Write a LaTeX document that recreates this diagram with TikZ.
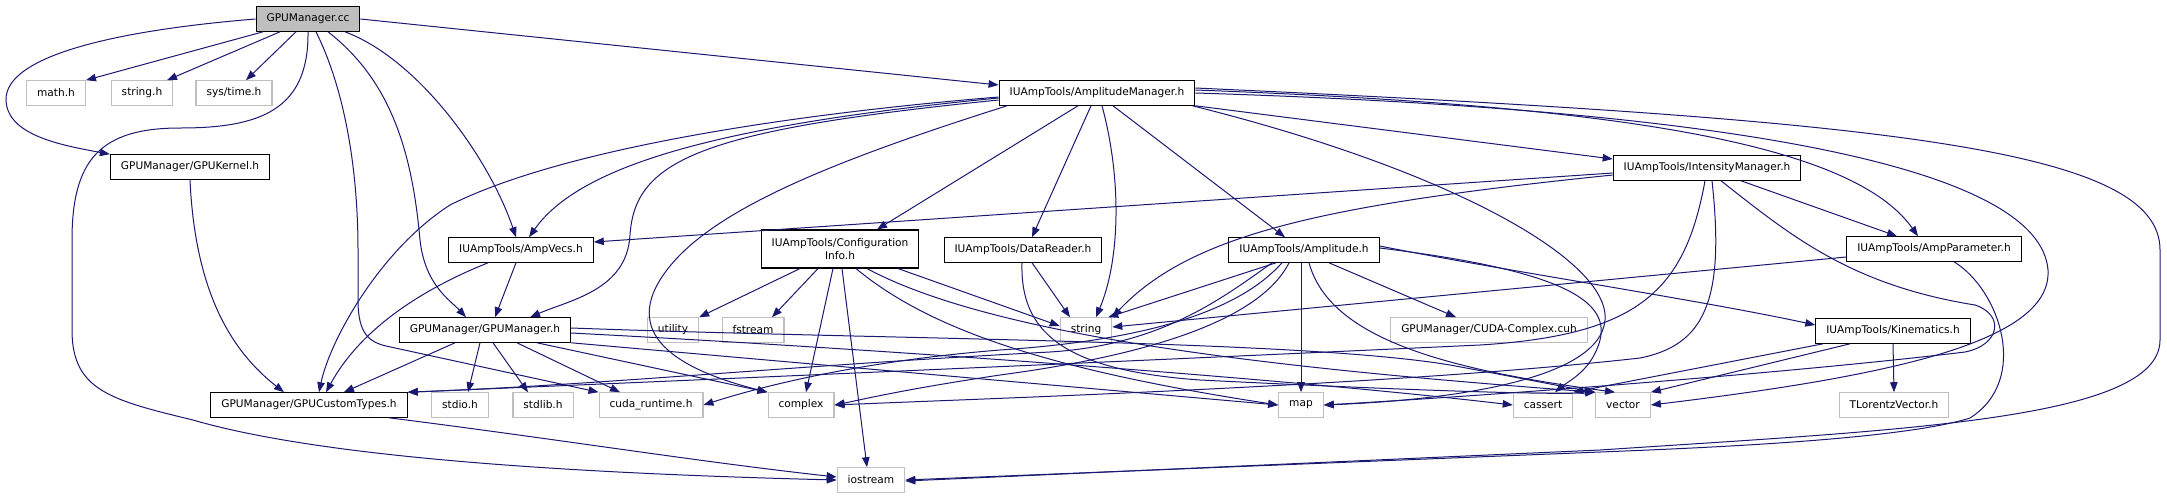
\documentclass[tikz,border=0pt]{standalone}
\usepackage{fontspec}
\newfontfamily\dvs{DejaVu Sans}
\usetikzlibrary{arrows.meta}
\definecolor{edgeblue}{HTML}{191970}
\definecolor{sysgray}{HTML}{BFBFBF}
\tikzset{
	hdr/.style={draw=black, line width=1.1pt, fill=white, font=\dvs\fontsize{10.6}{12.5}\selectfont, inner xsep=10.5pt, inner ysep=0pt, minimum height=24.5pt},
	sys/.style={hdr, draw=sysgray},
	incl/.style={draw=edgeblue, line width=1pt, -{Triangle[length=10pt,width=7.5pt]}}
}
\begin{document}
\begin{tikzpicture}[x=1pt,y=-1pt]
	\useasboundingbox (0,0) rectangle (2167,499);
	\node[hdr, fill=sysgray] (cc) at (308,19) {GPUManager.cc};
	\node[sys] (math) at (56,93) {math.h};
	\node[sys] (strh) at (142,93) {string.h};
	\node[sys] (time) at (234,93) {sys/time.h};
	\node[hdr] (am) at (1097,93) {IUAmpTools/AmplitudeManager.h};
	\node[hdr] (kernel) at (190,167) {GPUManager/GPUKernel.h};
	\node[hdr] (im) at (1707,168) {IUAmpTools/IntensityManager.h};
	\node[hdr] (vecs) at (521,250) {IUAmpTools/AmpVecs.h};
	\node[hdr, align=center, minimum height=38pt] (cfg) at (840,249) {IUAmpTools/Configuration\\Info.h};
	\node[hdr] (dr) at (1023,250) {IUAmpTools/DataReader.h};
	\node[hdr] (amp) at (1304,250) {IUAmpTools/Amplitude.h};
	\node[hdr] (par) at (1934,249) {IUAmpTools/AmpParameter.h};
	\node[hdr] (gpum) at (485,330) {GPUManager/GPUManager.h};
	\node[sys] (util) at (673,330) {utility};
	\node[sys] (fstr) at (753,330) {fstream};
	\node[sys] (str) at (1086,330) {string};
	\node[sys] (cuh) at (1489,330) {GPUManager/CUDA-Complex.cuh};
	\node[hdr] (kin) at (1893,331) {IUAmpTools/Kinematics.h};
	\node[hdr] (ctyp) at (309,405) {GPUManager/GPUCustomTypes.h};
	\node[sys] (stdio) at (460,405) {stdio.h};
	\node[sys] (stdlib) at (543,405) {stdlib.h};
	\node[sys] (cuda) at (651,405) {cuda\_runtime.h};
	\node[sys] (cplx) at (801,405) {complex};
	\node[sys] (map) at (1301,405) {map};
	\node[sys] (cass) at (1543,405) {cassert};
	\node[sys] (vec) at (1623,405) {vector};
	\node[sys] (tlv) at (1894,405) {TLorentzVector.h};
	\node[sys] (ios) at (871,480) {iostream};

	\draw[incl] ([xshift=-45pt]cc.south) -- ([xshift=30pt]math.north);
	\draw[incl] ([xshift=-28pt]cc.south) -- ([xshift=25pt]strh.north);
	\draw[incl] ([xshift=-12pt]cc.south) -- ([xshift=12pt]time.north);
	\draw[incl] (cc.west) .. controls (120,30) and (5,55) .. (6,100) .. controls (7,135) and (60,145) .. (kernel.north west);
	\draw[incl] (cc.south) .. controls (309,110) and (260,128) .. (180,128) .. controls (100,128) and (72,160) .. (72,240) -- (72,330) .. controls (72,390) and (110,400) .. (193,420) .. controls (330,460) and (600,474) .. (ios.west);
	\draw[incl] ([xshift=8pt]cc.south) .. controls (345,90) and (358,170) .. (358,250) -- (358,300) .. controls (358,335) and (370,342) .. (386,346) -- (cuda.north west);
	\draw[incl] ([xshift=20pt]cc.south) .. controls (390,80) and (412,150) .. (420,240) .. controls (425,285) and (450,300) .. ([xshift=-19pt]gpum.north);
	\draw[incl] ([xshift=37pt]cc.south) .. controls (420,60) and (490,160) .. ([xshift=-5pt]vecs.north);
	\draw[incl] (cc.east) -- ([yshift=8pt]am.west);

	\draw[incl] (kernel.south) .. controls (195,290) and (230,350) .. ([xshift=-25pt]ctyp.north);
	\draw[incl] ([xshift=80pt]ctyp.south) .. controls (550,438) and (700,462) .. ([yshift=3pt]ios.west);
	\draw[incl] ([xshift=-5pt]vecs.south) -- ([xshift=10pt]gpum.north);
	\draw[incl] ([xshift=-33pt]vecs.south) .. controls (420,290) and (360,330) .. ([xshift=17pt]ctyp.north);

	\draw[incl] ([xshift=-30pt]gpum.south) -- ([xshift=35pt]ctyp.north);
	\draw[incl] ([xshift=-5pt]gpum.south) -- ([xshift=8pt]stdio.north);
	\draw[incl] ([xshift=8pt]gpum.south) -- ([xshift=-15pt]stdlib.north);
	\draw[incl] ([xshift=32pt]gpum.south) -- ([xshift=-31pt]cuda.north);
	\draw[incl] ([xshift=52pt]gpum.south) -- (cplx.north west);
	\draw[incl] (gpum.south east) -- (map.west);
	\draw[incl] ([yshift=-3pt]gpum.east) .. controls (900,350) and (1300,380) .. (cass.west);
	\draw[incl] ([yshift=2pt]gpum.east) .. controls (900,340) and (1300,340) .. (1450,365) .. controls (1520,378) and (1570,388) .. (vec.north west);

	\draw[incl] ([yshift=-4pt]am.west) .. controls (780,115) and (560,150) .. (450,205) .. controls (380,250) and (330,340) .. ([xshift=10pt]ctyp.north);
	\draw[incl] ([yshift=-5pt]am.west) .. controls (720,125) and (580,165) .. ([xshift=8pt]vecs.north);
	\draw[incl] ([yshift=-7pt]am.west) .. controls (700,130) and (635,160) .. (630,235) .. controls (627,290) and (570,300) .. ([xshift=45pt]gpum.north);
	\draw[incl] ([xshift=-90pt]am.south) .. controls (820,165) and (700,215) .. (660,280) .. controls (620,345) and (700,375) .. (cplx.north west);
	\draw[incl] ([xshift=-19pt]am.south) -- ([xshift=37pt]cfg.north);
	\draw[incl] ([xshift=-6pt]am.south) -- ([xshift=9pt]dr.north);
	\draw[incl] ([xshift=5pt]am.south) .. controls (1122,180) and (1120,260) .. ([xshift=10pt]str.north);
	\draw[incl] ([xshift=16pt]am.south) -- ([xshift=-19pt]amp.north);
	\draw[incl] (am.south east) -- ([yshift=9pt]im.west);
	\draw[incl] ([xshift=-3pt]am.south east) .. controls (1450,170) and (1610,260) .. (1605,320) .. controls (1600,380) and (1450,400) .. (map.east);
	\draw[incl] ([yshift=3pt]am.east) .. controls (1600,105) and (1850,140) .. ([xshift=-16pt]par.north);
	\draw[incl] (am.east) .. controls (1750,110) and (2040,170) .. (2048,270) .. controls (2052,340) and (1900,375) .. (vec.east);
	\draw[incl] ([yshift=5pt]am.east) .. controls (1900,120) and (2160,150) .. (2160,250) -- (2160,340) .. controls (2160,420) and (1900,430) .. (1600,450) -- ([yshift=-1pt]ios.east);

	\draw[incl] ([yshift=-5pt]im.west) -- ([yshift=8pt]vecs.east);
	\draw[incl] ([yshift=-7pt]im.west) .. controls (1320,205) and (1190,235) .. (str.north east);
	\draw[incl] ([xshift=34pt]im.south) -- ([xshift=-37pt]par.north);
	\draw[incl] ([xshift=-2pt]im.south) .. controls (1685,290) and (1640,335) .. (1480,345) .. controls (1200,358) and (700,380) .. (ctyp.north east);
	\draw[incl] ([xshift=5pt]im.south) .. controls (1725,300) and (1705,345) .. (1640,358) .. controls (1400,385) and (1000,398) .. (cplx.east);
	\draw[incl] ([xshift=14pt]im.south) .. controls (1790,235) and (1850,285) .. (1975,305) .. controls (2005,315) and (2000,345) .. (1965,352) .. controls (1800,372) and (1500,395) .. (map.east);

	\draw[incl] ([xshift=-40pt]cfg.south) -- (util.north east);
	\draw[incl] ([xshift=-22pt]cfg.south) -- ([xshift=19pt]fstr.north);
	\draw[incl] ([xshift=-7pt]cfg.south) -- ([xshift=5pt]cplx.north);
	\draw[incl] ([xshift=2pt]cfg.south) -- ([xshift=-4pt]ios.north);
	\draw[incl] ([xshift=16pt]cfg.south) .. controls (930,330) and (1050,370) .. (map.west);
	\draw[incl] ([xshift=27pt]cfg.south) .. controls (1000,340) and (1300,370) .. (vec.north west);
	\draw[incl] ([xshift=58pt]cfg.south) -- ([yshift=4pt]str.west);

	\draw[incl] ([xshift=9pt]dr.south) -- ([xshift=-16pt]str.north);
	\draw[incl] ([xshift=-1pt]dr.south) .. controls (1020,330) and (1060,370) .. (1200,380) .. controls (1400,390) and (1550,395) .. (vec.north west);

	\draw[incl] ([yshift=-8pt]par.west) -- ([yshift=3pt]str.east);
	\draw[incl] ([xshift=20pt]par.south) .. controls (2000,290) and (2030,380) .. (1970,418) .. controls (1900,440) and (1700,448) .. (1600,452) -- (ios.east);

	\draw[incl] (kin.south) -- (tlv.north);
	\draw[incl] ([xshift=-43pt]kin.south) -- (vec.north east);
	\draw[incl] ([xshift=-70pt]kin.south) -- (cass.north east);

	\draw[incl] ([xshift=-28pt]amp.south) -- ([xshift=-4pt]str.north east);
	\draw[incl] ([xshift=-32pt]amp.south) .. controls (1220,300) and (1160,345) .. (1050,352) .. controls (800,365) and (600,385) .. (ctyp.north east);
	\draw[incl] ([xshift=-22pt]amp.south) .. controls (1240,310) and (1150,340) .. (1000,350) .. controls (850,362) and (750,390) .. (cuda.east);
	\draw[incl] ([xshift=-15pt]amp.south) .. controls (1260,320) and (1150,355) .. (1000,375) .. controls (900,390) and (860,400) .. (cplx.east);
	\draw[incl] ([xshift=-3pt]amp.south) -- (map.north);
	\draw[incl] ([xshift=25pt]amp.south) -- ([xshift=-33pt]cuh.north);
	\draw[incl] ([yshift=4pt]amp.east) .. controls (1500,270) and (1700,300) .. ([yshift=6pt]kin.west);
	\draw[incl] ([yshift=2pt]amp.east) .. controls (1560,270) and (1610,300) .. (1600,340) .. controls (1592,370) and (1570,380) .. ([xshift=12pt]cass.north);
	\draw[incl] ([xshift=5pt]amp.south) .. controls (1330,340) and (1450,370) .. ([xshift=-8pt]vec.north);
\end{tikzpicture}
\end{document}
